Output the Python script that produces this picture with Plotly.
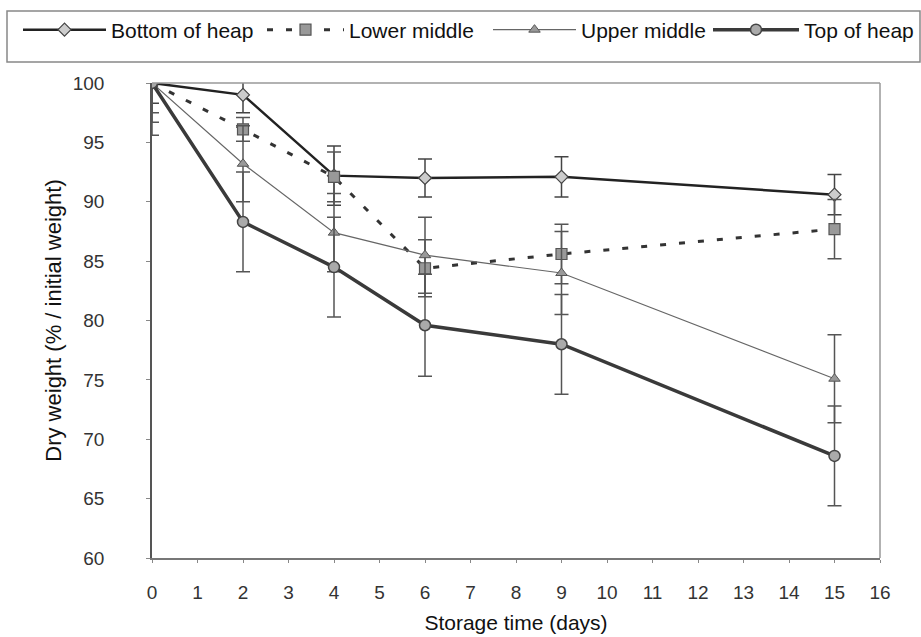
import plotly.graph_objects as go

days = [0, 2, 4, 6, 9, 15]

bottom_vals = [100, 99.0, 92.2, 92.0, 92.1, 90.6]
bottom_err = [1.7, 1.5, 2.5, 1.6, 1.7, 1.7]

lower_vals = [100, 96.1, 92.1, 84.4, 85.6, 87.7]
lower_err = [2.5, 1.0, 2.1, 2.4, 2.5, 2.5]

upper_vals = [100, 93.2, 87.4, 85.5, 84.0, 75.1]
upper_err = [3.3, 3.2, 3.3, 3.2, 3.5, 3.7]

top_vals = [100, 88.3, 84.5, 79.6, 78.0, 68.6]
top_err = [4.4, 4.2, 4.2, 4.3, 4.2, 4.2]

names = ["Bottom of heap", "Lower middle", "Upper middle", "Top of heap"]

fig = go.Figure()

fig.add_trace(go.Scatter(
    x=days, y=bottom_vals, name=names[0], mode="lines+markers", legend="legend",
    line=dict(color="#222222", width=2.5),
    marker=dict(symbol="diamond", size=10, color="#cccccc", line=dict(color="#444444", width=1.2)),
    error_y=dict(type="data", array=bottom_err, visible=True, color="#444444", thickness=1.5, width=7),
))
fig.add_trace(go.Scatter(
    x=days, y=lower_vals, name=names[1], mode="lines+markers", legend="legend2",
    line=dict(color="#333333", width=3, dash="6px,13px"),
    marker=dict(symbol="square", size=11, color="#999999", line=dict(color="#555555", width=1.2)),
    error_y=dict(type="data", array=lower_err, visible=True, color="#555555", thickness=1.5, width=7),
))
fig.add_trace(go.Scatter(
    x=days, y=upper_vals, name=names[2], mode="lines+markers", legend="legend3",
    line=dict(color="#666666", width=1.2),
    marker=dict(symbol="triangle-up", size=10, color="#999999", line=dict(color="#555555", width=1)),
    error_y=dict(type="data", array=upper_err, visible=True, color="#555555", thickness=1.5, width=7),
))
fig.add_trace(go.Scatter(
    x=days, y=top_vals, name=names[3], mode="lines+markers", legend="legend4",
    line=dict(color="#3a3a3a", width=3.5),
    marker=dict(symbol="circle", size=11, color="#aaaaaa", line=dict(color="#444444", width=1.5)),
    error_y=dict(type="data", array=top_err, visible=True, color="#555555", thickness=1.5, width=7),
))

L, R, T, B = 152, 41, 83, 79
W, H = 921, 637
pw, ph = W - L - R, H - T - B


def px_x(p):
    return (p - L) / pw


def px_y(p):
    return (H - B - p) / ph


legend_common = dict(orientation="h", xanchor="left", yanchor="middle", y=px_y(30),
                     font=dict(size=21, color="#111111"),
                     bgcolor="rgba(0,0,0,0)", borderwidth=0)

fig.update_layout(
    width=W, height=H,
    margin=dict(l=L, r=R, t=T, b=B, autoexpand=False),
    paper_bgcolor="white", plot_bgcolor="white",
    font=dict(family="Liberation Sans, Arial, sans-serif", size=18, color="#222222"),
    showlegend=True,
    legend=dict(x=px_x(18), itemwidth=83, **legend_common),
    legend2=dict(x=px_x(262), itemwidth=77, **legend_common),
    legend3=dict(x=px_x(488), itemwidth=83, **legend_common),
    legend4=dict(x=px_x(708), itemwidth=86, **legend_common),
    shapes=[dict(type="rect", xref="paper", yref="paper",
                 x0=px_x(7), x1=px_x(920), y0=px_y(62), y1=px_y(11),
                 line=dict(color="#888888", width=1.5), fillcolor="rgba(0,0,0,0)", layer="below")],
    xaxis=dict(
        range=[0, 16], tickmode="linear", tick0=0, dtick=1,
        showgrid=False, zeroline=False, automargin=False,
        showline=True, linecolor="#777777", linewidth=1.5, mirror=False,
        ticks="outside", ticklen=3, tickcolor="#888888", ticklabelstandoff=13,
        tickfont=dict(size=19, color="#333333"),
        title=dict(text="Storage time (days)", font=dict(size=21, color="#111111"), standoff=14),
    ),
    yaxis=dict(
        range=[60, 100], tickmode="linear", tick0=60, dtick=5,
        showgrid=False, zeroline=False, automargin=False,
        showline=True, linecolor="#555555", linewidth=1.5,
        ticks="outside", ticklen=4, tickcolor="#888888", ticklabelstandoff=38,
        tickfont=dict(size=19, color="#333333"),
        title=dict(text="Dry weight (% / initial weight)", font=dict(size=22, color="#111111"), standoff=5),
    ),
)

# top and right plot frame
fig.add_shape(type="line", xref="paper", yref="paper", x0=0, x1=1, y0=1, y1=1,
              line=dict(color="#999999", width=1.5))
fig.add_shape(type="line", xref="paper", yref="paper", x0=1, x1=1, y0=0, y1=1,
              line=dict(color="#999999", width=1.5))

fig.write_html("out.html", config={"displayModeBar": False},
               post_script="document.body.style.margin='0';")
